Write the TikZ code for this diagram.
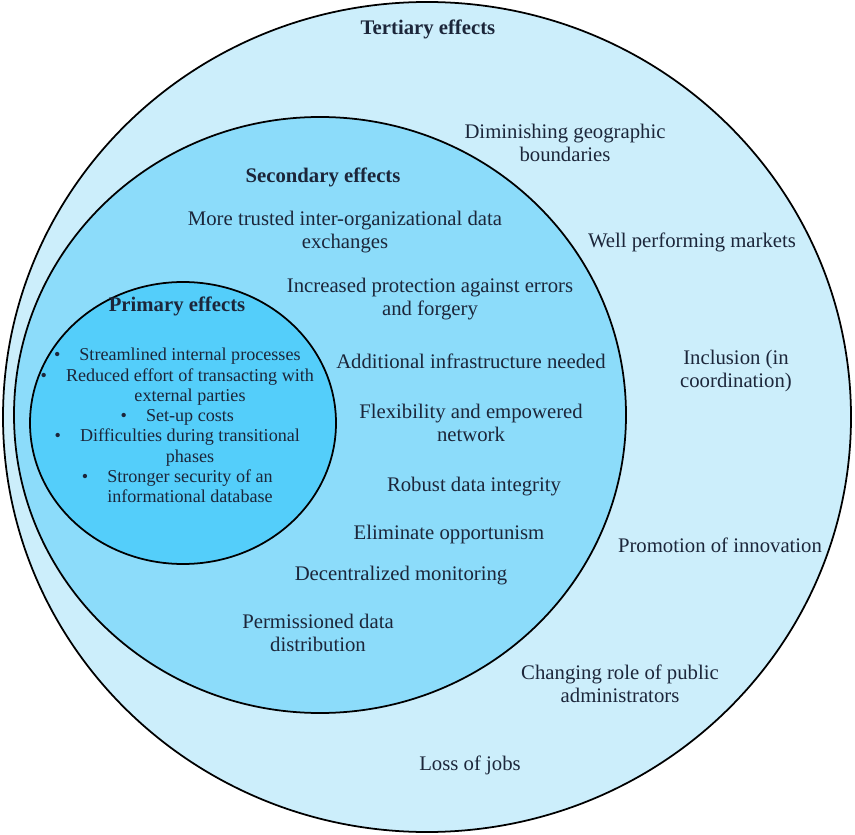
\documentclass[tikz,border=0pt]{standalone}
\usepackage{fontspec}
\setmainfont{Liberation Serif}
\definecolor{fillT}{RGB}{204,238,251}
\definecolor{fillS}{RGB}{140,220,250}
\definecolor{fillP}{RGB}{84,206,250}
\definecolor{inkN}{RGB}{28,38,58}
\newcommand\pbul{\llap{\textbullet\hspace{1.05em}}}

\begin{document}
\begin{tikzpicture}[line cap=round,
  lbl/.style={text=inkN, align=center, inner sep=0pt, font=\fontsize{11.8}{13.1}\selectfont},
  ttl/.style={lbl, font=\fontsize{11.8}{13.1}\selectfont\bfseries},
  itm/.style={lbl, font=\fontsize{10.3}{11.5}\selectfont}]
\useasboundingbox (0,0) rectangle (17.1,16.68);
% the three nested circles
\filldraw[fill=fillT, line width=1pt] (8.54,8.34) ellipse (8.48 and 8.30);
\filldraw[fill=fillS, line width=1pt] (6.40,8.38) ellipse (6.12 and 5.96);
\filldraw[fill=fillP, line width=1pt] (3.66,8.22) ellipse (3.06 and 2.82);
% tertiary effects
\node[ttl] (tert) at (8.56,16.10) {Tertiary effects};
\node[lbl] (geo) at (11.30,13.82) {Diminishing geographic\\boundaries};
\node[lbl] (mkt) at (13.84,11.84) {Well performing markets};
\node[lbl] (incl) at (14.72,9.26) {Inclusion (in\\coordination)};
\node[lbl] (innov) at (14.40,5.78) {Promotion of innovation};
\node[lbl] (admin) at (12.40,3.00) {Changing role of public\\administrators};
\node[lbl] (jobs) at (9.40,1.38) {Loss of jobs};
% secondary effects
\node[ttl] (sec) at (6.46,13.14) {Secondary effects};
\node[lbl] (trust) at (6.90,12.04) {More trusted inter-organizational data\\exchanges};
\node[lbl] (prot) at (8.60,10.70) {Increased protection against errors\\and forgery};
\node[lbl] (infra) at (9.42,9.46) {Additional infrastructure needed};
\node[lbl] (flex) at (9.42,8.22) {Flexibility and empowered\\network};
\node[lbl] (integ) at (9.48,6.94) {Robust data integrity};
\node[lbl] (opp) at (8.98,5.98) {Eliminate opportunism};
\node[lbl] (moni) at (8.02,5.16) {Decentralized monitoring};
\node[lbl] (perm) at (6.36,4.02) {Permissioned data\\distribution};
% primary effects
\node[ttl] (prim) at (3.54,10.56) {Primary effects};
\node[itm] (plist) at (3.80,8.17) {\pbul Streamlined internal processes\\
  \pbul Reduced effort of transacting with\\
  external parties\\
  \pbul Set-up costs\\
  \pbul Difficulties during transitional\\
  phases\\
  \pbul Stronger security of an\\
  informational database};
\end{tikzpicture}
\end{document}
